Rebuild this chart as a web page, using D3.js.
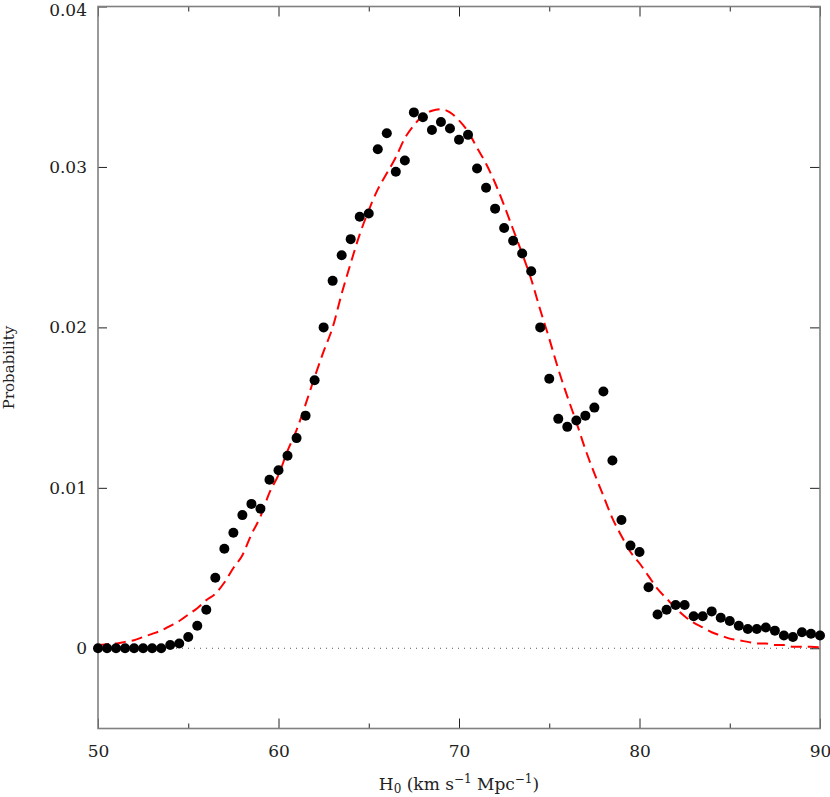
<!DOCTYPE html>
<html>
<head>
<meta charset="utf-8">
<script src="https://cdn.jsdelivr.net/npm/d3@7"></script>
<style>
  body { margin: 0; background: #fff; }
  svg { display: block; }
  text { font-family: "DejaVu Serif", serif; fill: #222; }
</style>
</head>
<body>
<svg id="chart"></svg>
<script>
// H0 grid (km/s/Mpc), one point every 0.5
var h0Values = d3.range(0, 81).map(i => 50 + i * 0.5)

var pointProb = [
  0, 0, 0, 0, 0, 0, 0, 0, 0.0002, 0.0003,
  0.0007, 0.0014, 0.0024, 0.0044, 0.0062, 0.0072, 0.0083, 0.0090, 0.0087, 0.0105,
  0.0111, 0.0120, 0.0131, 0.0145, 0.0167, 0.0200, 0.0229, 0.0245, 0.0255, 0.0269,
  0.0271, 0.0311, 0.0321, 0.0297, 0.0304, 0.0334, 0.0331, 0.0323, 0.0328, 0.0324,
  0.0317, 0.0320, 0.0299, 0.0287, 0.0274, 0.0262, 0.0254, 0.0246, 0.0235, 0.0200,
  0.0168, 0.0143, 0.0138, 0.0142, 0.0145, 0.0150, 0.0160, 0.0117, 0.0080, 0.0064,
  0.0060, 0.0038, 0.0021, 0.0024, 0.0027, 0.0027, 0.0020, 0.0020, 0.0023, 0.0019,
  0.0017, 0.0014, 0.0012, 0.0012, 0.0013, 0.0011, 0.0008, 0.0007, 0.0010, 0.0009,
  0.0008
]

// smooth model curve (red dashed line)
var curveProb = [
  0.0002, 0.00025, 0.0003, 0.0004, 0.0005, 0.0007, 0.0009, 0.0011, 0.0014, 0.0017,
  0.0021, 0.0025, 0.0030, 0.0034, 0.0041, 0.0050, 0.0058, 0.0071, 0.0082, 0.0097,
  0.0108, 0.0123, 0.0136, 0.0152, 0.0169, 0.0185, 0.0200, 0.0221, 0.0240, 0.0258,
  0.0273, 0.0286, 0.0296, 0.0306, 0.0318, 0.0326, 0.0332, 0.0335, 0.0336, 0.0334,
  0.0329, 0.0322, 0.0312, 0.0302, 0.0290, 0.0276, 0.0261, 0.0246, 0.0230, 0.0211,
  0.0193, 0.0174, 0.0157, 0.0141, 0.0124, 0.0109, 0.0095, 0.0081, 0.0070, 0.0060,
  0.0053, 0.0045, 0.0037, 0.0031, 0.0025, 0.0020, 0.0016, 0.0013, 0.0010, 0.0008,
  0.0006, 0.0005, 0.0004, 0.0003, 0.0003, 0.0002, 0.0002, 0.0001, 0.0001, 0.0001,
  0.00005
]

var xMajorTicks = [50, 60, 70, 80, 90]
var xMinorTicks = [55, 65, 75, 85]
var yMajorTicks = [0, 0.01, 0.02, 0.03, 0.04]
var yTickLabels = ["0", "0.01", "0.02", "0.03", "0.04"]

var dimensions = {
  width: 830,
  height: 797,
  margin: { top: 6.5, bottom: 68.5, left: 98, right: 10 }
}

var svg = d3.select("#chart")
  .attr("width", dimensions.width)
  .attr("height", dimensions.height)

var xScale = d3.scaleLinear()
  .domain([50, 90])
  .range([dimensions.margin.left, dimensions.width - dimensions.margin.right])

var yScale = d3.scaleLinear()
  .domain([-0.005, 0.04])
  .range([dimensions.height - dimensions.margin.bottom, dimensions.margin.top])

var x0 = xScale.range()[0], x1 = xScale.range()[1]
var yTop = yScale.range()[1], yBot = yScale.range()[0]

// zero line
svg.append("line")
  .attr("x1", x0).attr("x2", x1)
  .attr("y1", yScale(0)).attr("y2", yScale(0))
  .attr("stroke", "#555")
  .attr("stroke-width", 1)
  .attr("stroke-dasharray", "1,5")

// axes with inward ticks
function styleAxis(g) {
  g.select(".domain").remove()
  g.selectAll(".tick line").attr("stroke", "#222")
  g.selectAll(".tick text")
    .style("font-family", "DejaVu Serif, serif")
    .style("font-size", "17px")
    .attr("fill", "#222")
}

svg.append("g")
  .attr("transform", `translate(0,${yBot})`)
  .call(d3.axisBottom(xScale).tickValues(xMajorTicks).tickSizeInner(-10).tickSizeOuter(0).tickPadding(16))
  .call(styleAxis)
svg.append("g")
  .attr("transform", `translate(0,${yBot})`)
  .call(d3.axisBottom(xScale).tickValues(xMinorTicks).tickSizeInner(-5).tickSizeOuter(0).tickFormat(""))
  .call(styleAxis)
svg.append("g")
  .attr("transform", `translate(0,${yTop})`)
  .call(d3.axisTop(xScale).tickValues(xMajorTicks).tickSizeInner(-10).tickSizeOuter(0).tickFormat(""))
  .call(styleAxis)
svg.append("g")
  .attr("transform", `translate(0,${yTop})`)
  .call(d3.axisTop(xScale).tickValues(xMinorTicks).tickSizeInner(-5).tickSizeOuter(0).tickFormat(""))
  .call(styleAxis)

svg.append("g")
  .attr("transform", `translate(${x0},0)`)
  .call(d3.axisLeft(yScale).tickValues(yMajorTicks).tickSizeInner(-9).tickSizeOuter(0)
    .tickPadding(11).tickFormat((d, i) => yTickLabels[i]))
  .call(styleAxis)
svg.append("g")
  .attr("transform", `translate(${x1},0)`)
  .call(d3.axisRight(yScale).tickValues(yMajorTicks).tickSizeInner(-10).tickSizeOuter(0).tickFormat(""))
  .call(styleAxis)

// keep the top label inside the page
svg.selectAll("text").filter(function () { return this.textContent === "0.04" })
  .attr("dy", "0.5em")

// frame
svg.append("rect")
  .attr("x", x0).attr("y", yTop)
  .attr("width", x1 - x0).attr("height", yBot - yTop)
  .attr("fill", "none")
  .attr("stroke", "#808080")
  .attr("stroke-width", 1.6)

// model curve
var line = d3.line()
  .x((d, i) => xScale(h0Values[i]))
  .y(d => yScale(d))
  .curve(d3.curveMonotoneX)

svg.append("path")
  .datum(curveProb)
  .attr("d", line)
  .attr("fill", "none")
  .attr("stroke", "#ff0000")
  .attr("stroke-width", 2)
  .attr("stroke-dasharray", "11,6")

// data points
svg.append("g")
  .selectAll("circle")
  .data(pointProb)
  .enter()
  .append("circle")
  .attr("cx", (d, i) => xScale(h0Values[i]))
  .attr("cy", d => yScale(d))
  .attr("r", 5)
  .attr("fill", "#000")

// axis titles
var xTitle = svg.append("text")
  .attr("x", (x0 + x1) / 2)
  .attr("y", 790)
  .attr("text-anchor", "middle")
  .style("font-size", "17px")
xTitle.append("tspan").text("H")
xTitle.append("tspan").attr("dy", 3).style("font-size", "12px").text("0")
xTitle.append("tspan").attr("dy", -3).text(" (km s")
xTitle.append("tspan").attr("dy", -7).style("font-size", "12px").text("\u22121")
xTitle.append("tspan").attr("dy", 7).text(" Mpc")
xTitle.append("tspan").attr("dy", -7).style("font-size", "12px").text("\u22121")
xTitle.append("tspan").attr("dy", 7).text(")")

svg.append("text")
  .attr("transform", `translate(14,${(yTop + yBot) / 2}) rotate(-90)`)
  .attr("text-anchor", "middle")
  .style("font-size", "15px")
  .text("Probability")
</script>
</body>
</html>
